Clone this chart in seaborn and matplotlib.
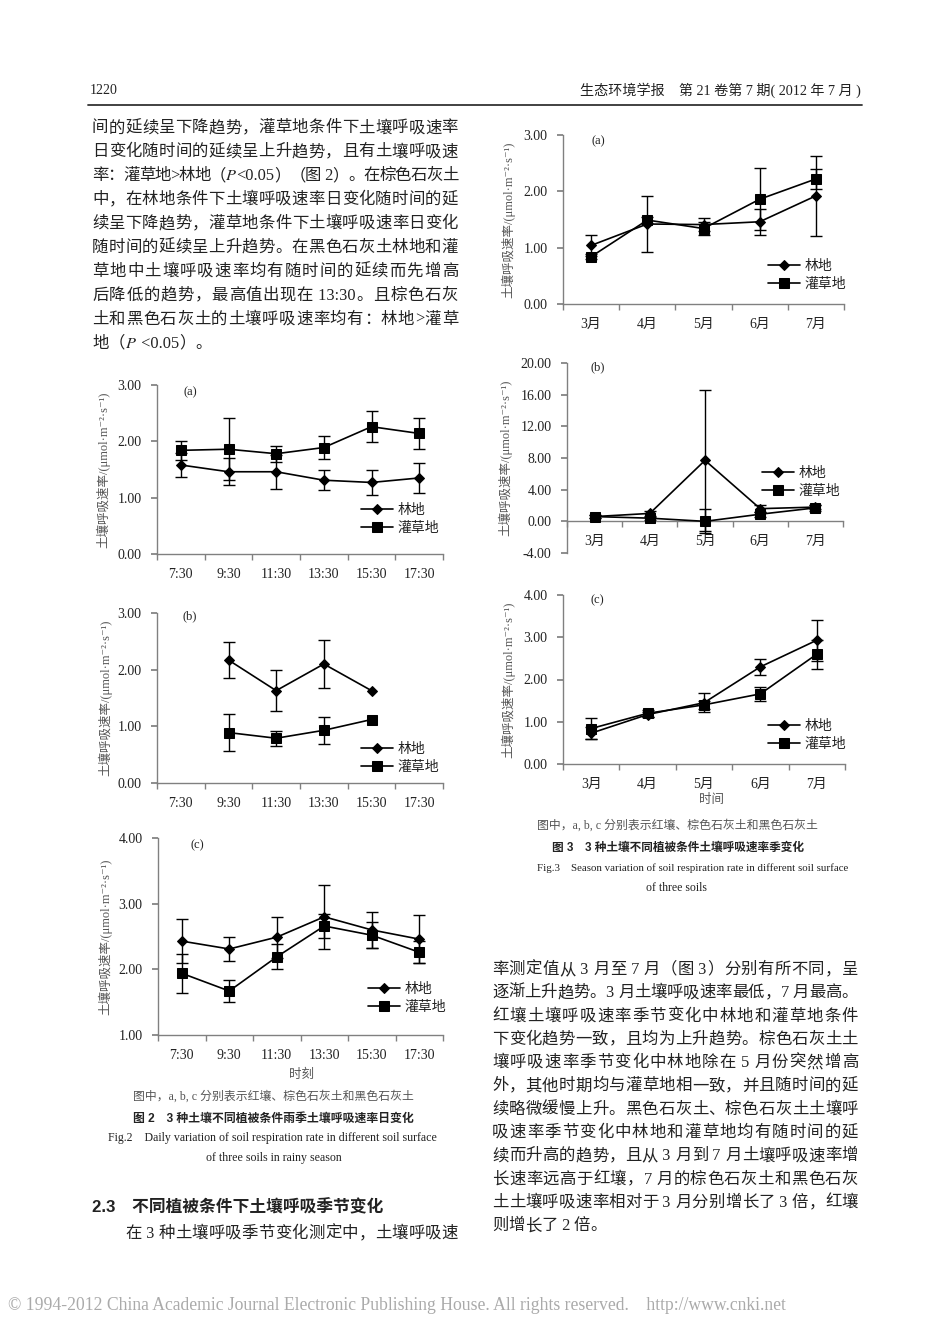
import re
import numpy as np
import pandas as pd
import seaborn as sns
import matplotlib.pyplot as plt
from matplotlib.ticker import FuncFormatter

# ========== 数据 ==========
daily_times = ['7:30', '9:30', '11:30', '13:30', '15:30', '17:30']
months = ['3月', '4月', '5月', '6月', '7月']
nan = np.nan

# 图2 雨季日变化 (a 红壤, b 棕色石灰土, c 黑色石灰土)
d_a_lin = [1.58, 1.46, 1.46, 1.31, 1.27, 1.35]
d_a_lin_err = [0.22, 0.24, 0.30, 0.18, 0.22, 0.27]
d_a_guan = [1.84, 1.86, 1.78, 1.89, 2.26, 2.14]
d_a_guan_err = [0.17, 0.55, 0.14, 0.20, 0.27, 0.28]

d_b_lin = [nan, 2.17, 1.63, 2.10, 1.63, nan]
d_b_lin_err = [nan, 0.31, 0.36, 0.43, nan, nan]
d_b_guan = [nan, 0.89, 0.79, 0.93, 1.12, nan]
d_b_guan_err = [nan, 0.32, 0.13, 0.24, nan, nan]

d_c_lin = [2.43, 2.31, 2.49, 2.80, 2.60, 2.46]
d_c_lin_err = [0.33, 0.18, 0.31, 0.49, 0.27, 0.37]
d_c_guan = [1.94, 1.67, 2.19, 2.66, 2.52, 2.26]
d_c_guan_err = [0.30, 0.16, 0.19, 0.18, 0.20, 0.17]

# 图3 季节变化
s_a_lin = [1.04, 1.42, 1.41, 1.46, 1.92]
s_a_lin_err = [0.19, 0.50, 0.12, 0.23, 0.71]
s_a_guan = [0.84, 1.49, 1.34, 1.86, 2.22]
s_a_guan_err = [0.04, 0.06, 0.12, 0.55, 0.18]

s_b_lin = [0.6, 1.0, 7.7, 1.6, 1.8]
s_b_lin_err = [0.2, 0.3, 8.9, 0.4, 0.3]
s_b_guan = [0.6, 0.4, 0.0, 0.9, 1.7]
s_b_guan_err = [0.2, 0.2, 1.5, 0.3, 0.4]

s_c_lin = [0.73, 1.17, 1.45, 2.30, 2.93]
s_c_lin_err = [0.14, 0.06, 0.22, 0.19, 0.49]
s_c_guan = [0.84, 1.20, 1.40, 1.66, 2.60]
s_c_guan_err = [0.26, 0.08, 0.10, 0.16, 0.34]

# ========== 正文 ==========
left_lines = [
    "间的延续呈下降趋势，灌草地条件下土壤呼吸速率",
    "日变化随时间的延续呈上升趋势，且有土壤呼吸速",
    "率：灌草地>林地（$P$<0.05）（图 2）。在棕色石灰土",
    "中，在林地条件下土壤呼吸速率日变化随时间的延",
    "续呈下降趋势，灌草地条件下土壤呼吸速率日变化",
    "随时间的延续呈上升趋势。在黑色石灰土林地和灌",
    "草地中土壤呼吸速率均有随时间的延续而先增高",
    "后降低的趋势，最高值出现在 13:30。且棕色石灰",
    "土和黑色石灰土的土壤呼吸速率均有：林地>灌草",
    "地（$P$ <0.05）。",
]
right_lines = [
    "率测定值从 3 月至 7 月（图 3）分别有所不同，呈",
    "逐渐上升趋势。3 月土壤呼吸速率最低，7 月最高。",
    "红壤土壤呼吸速率季节变化中林地和灌草地条件",
    "下变化趋势一致，且均为上升趋势。棕色石灰土土",
    "壤呼吸速率季节变化中林地除在 5 月份突然增高",
    "外，其他时期均与灌草地相一致，并且随时间的延",
    "续略微缓慢上升。黑色石灰土、棕色石灰土土壤呼",
    "吸速率季节变化中林地和灌草地均有随时间的延",
    "续而升高的趋势，且从 3 月到 7 月土壤呼吸速率增",
    "长速率远高于红壤，7 月的棕色石灰土和黑色石灰",
    "土土壤呼吸速率相对于 3 月分别增长了 3 倍，红壤",
    "则增长了 2 倍。",
]

# ========== 样式 ==========
sns.set_theme(style='ticks')
plt.rcParams['font.family'] = ['Liberation Serif', 'Noto Sans CJK SC', 'DejaVu Sans']
plt.rcParams['mathtext.fontset'] = 'stix'
plt.rcParams['axes.unicode_minus'] = False
plt.rcParams['axes.edgecolor'] = '#808080'
plt.rcParams['axes.linewidth'] = 1.0

W, H = 950, 1344
fig = plt.figure(figsize=(W / 100, H / 100), dpi=100, facecolor='white')
renderer = fig.canvas.get_renderer()
TXT = '#222222'
GRAY = '#555555'
YLAB = '土壤呼吸速率/(μmol·m⁻²·s⁻¹)'


def put(x, y, s, **kw):
    return fig.text(x / W, 1 - y / H, s, **kw)


def fit(x0, x1, y, s, size, **kw):
    # 按给定像素宽度缩放字号
    t = put(x0, y, s, fontsize=size, ha='left', va='center', **kw)
    w = t.get_window_extent(renderer).width
    t.set_fontsize(size * (x1 - x0) / w)
    return t


TOKEN = re.compile(r'\$[^$]*\$|[A-Za-z0-9.:<>, ]+|.')


def justify(x0, x1, y, line, size, last=False):
    toks = TOKEN.findall(line)
    base = y + 0.36 * size * 100 / 72
    texts, widths = [], []
    for tk in toks:
        t = put(0, base, tk, fontsize=size, ha='left', va='baseline', color=TXT)
        widths.append(t.get_window_extent(renderer).width)
        texts.append(t)
    gap = 0 if last else (x1 - x0 - sum(widths)) / max(len(toks) - 1, 1)
    x = x0
    for t, w in zip(texts, widths):
        t.set_x(x / W)
        x += w + gap


def panel(box, labels, lin, lin_err, guan, guan_err, ylim, ystep,
          tag, tag_xy, leg_xy, ylab_x, zero_axis=False):
    l, t, r, b = box
    ax = fig.add_axes([l / W, 1 - b / H, (r - l) / W, (b - t) / H])
    ax.patch.set_alpha(0)
    x = np.arange(len(labels))
    df = pd.DataFrame({'pos': x, 'lin': lin, 'guan': guan})
    for col, err, mk, ms, lab in [('lin', lin_err, 'D', 5.5, '林地'),
                                  ('guan', guan_err, 's', 7.5, '灌草地')]:
        ax.errorbar(x, df[col], yerr=err, fmt='none', ecolor='black',
                    elinewidth=1.0, capsize=4, capthick=1.0, zorder=2,
                    label='_nolegend_')
        sns.lineplot(data=df, x='pos', y=col, ax=ax, color='black',
                     marker=mk, markersize=ms, markeredgecolor='black',
                     linewidth=1.2, label=lab, errorbar=None, zorder=3)
    ax.set_xlim(-0.5, len(labels) - 0.5)
    ax.set_ylim(*ylim)
    ax.set_yticks(np.arange(ylim[0], ylim[1] + 1e-9, ystep))
    ax.yaxis.set_major_formatter(FuncFormatter(lambda v, p: f'{v:.2f}'))
    ax.set_xticks(x)
    ax.set_xticklabels(labels)
    ax.set_xticks(np.arange(-0.5, len(labels)), minor=True)
    ax.tick_params(axis='x', which='major', length=0, pad=10, labelsize=10,
                   labelcolor=TXT)
    ax.tick_params(axis='x', which='minor', length=4, color='#808080')
    ax.tick_params(axis='y', length=4, color='#808080', pad=7, labelsize=10,
                   labelcolor=TXT)
    sns.despine(ax=ax)
    if zero_axis:
        ax.spines['bottom'].set_position(('data', 0))
    ax.set_xlabel('')
    ax.set_ylabel('')
    ax.legend(loc='upper left', bbox_to_anchor=(leg_xy[0] / W, 1 - leg_xy[1] / H),
              bbox_transform=fig.transFigure, frameon=False, fontsize=10,
              handlelength=2.3, handletextpad=0.3, labelspacing=0.35,
              borderpad=0, borderaxespad=0, labelcolor=TXT)
    put(tag_xy[0], tag_xy[1], tag, fontsize=9, ha='center', va='center', color=TXT)
    put(ylab_x, (t + b) / 2, YLAB, fontsize=9, rotation=90, ha='center',
        va='center', color=GRAY)
    return ax


# ========== 页眉 ==========
put(90, 90, '1220', fontsize=10, ha='left', va='center', color=TXT)
fit(580, 861, 90, '生态环境学报　第 21 卷第 7 期( 2012 年 7 月 )', 10, color=TXT)
fig.add_artist(plt.Line2D([88 / W, 862 / W], [1 - 105 / H] * 2,
                          transform=fig.transFigure, color='#333333', lw=1.3))

# ========== 左栏正文 ==========
for i, line in enumerate(left_lines):
    justify(92, 458, 126.5 + 23.9 * i, line, 11.8, last=(i == len(left_lines) - 1))

# ========== 图2 ==========
panel((157, 385, 443, 554), daily_times, d_a_lin, d_a_lin_err, d_a_guan,
      d_a_guan_err, (0, 3), 1, '(a)', (190, 392), (361, 504), 103)
panel((157, 613, 443, 783), daily_times, d_b_lin, d_b_lin_err, d_b_guan,
      d_b_guan_err, (0, 3), 1, '(b)', (190, 616), (361, 743), 105)
panel((158, 838, 443, 1035), daily_times, d_c_lin, d_c_lin_err, d_c_guan,
      d_c_guan_err, (1, 4), 1, '(c)', (197, 845), (368, 983), 105)

put(302, 1075, '时刻', fontsize=9, ha='center', va='center', color=GRAY)
fit(133, 413, 1096, '图中，a, b, c 分别表示红壤、棕色石灰土和黑色石灰土', 9, color=GRAY)
fit(133, 413, 1119, '图 2　3 种土壤不同植被条件雨季土壤呼吸速率日变化', 9,
    color=TXT, weight='bold', family=['Liberation Sans', 'Noto Sans CJK SC'])
fit(108, 438, 1138, 'Fig.2    Daily variation of soil respiration rate in different soil surface',
    9, color=TXT)
fit(206, 342, 1158, 'of three soils in rainy season', 9, color=TXT)

fit(92, 382, 1207, '2.3　不同植被条件下土壤呼吸季节变化', 12, color=TXT,
    weight='bold', family=['Liberation Sans', 'Noto Sans CJK SC'])
justify(125, 458, 1232, '在 3 种土壤呼吸季节变化测定中，土壤呼吸速', 11.8)

# ========== 图3 ==========
panel((563, 135, 844, 304), months, s_a_lin, s_a_lin_err, s_a_guan,
      s_a_guan_err, (0, 3), 1, '(a)', (598, 141), (768, 260), 508)
panel((567, 363, 843, 553), months, s_b_lin, s_b_lin_err, s_b_guan,
      s_b_guan_err, (-4, 20), 4, '(b)', (598, 367), (762, 467), 505, zero_axis=True)
panel((563, 595, 845, 764), months, s_c_lin, s_c_lin_err, s_c_guan,
      s_c_guan_err, (0, 4), 1, '(c)', (597, 600), (768, 720), 508)

put(712, 800, '时间', fontsize=9, ha='center', va='center', color=GRAY)
fit(537, 818, 825, '图中，a, b, c 分别表示红壤、棕色石灰土和黑色石灰土', 9, color=GRAY)
fit(552, 805, 848, '图 3　3 种土壤不同植被条件土壤呼吸速率季变化', 9,
    color=TXT, weight='bold', family=['Liberation Sans', 'Noto Sans CJK SC'])
fit(537, 846, 868, 'Fig.3    Season variation of soil respiration rate in different soil surface',
    9, color=TXT)
fit(646, 707, 888, 'of three soils', 9, color=TXT)

# ========== 右栏正文 ==========
for i, line in enumerate(right_lines):
    justify(492, 858, 968 + 23.3 * i, line, 11.8, last=(i == len(right_lines) - 1))

# ========== 页脚 ==========
fit(8, 785, 1305, '© 1994-2012 China Academic Journal Electronic Publishing House. '
    'All rights reserved.    http://www.cnki.net', 12, color='#aaaaaa')

fig.savefig('out.png', dpi=100, facecolor='white')
plt.close(fig)
